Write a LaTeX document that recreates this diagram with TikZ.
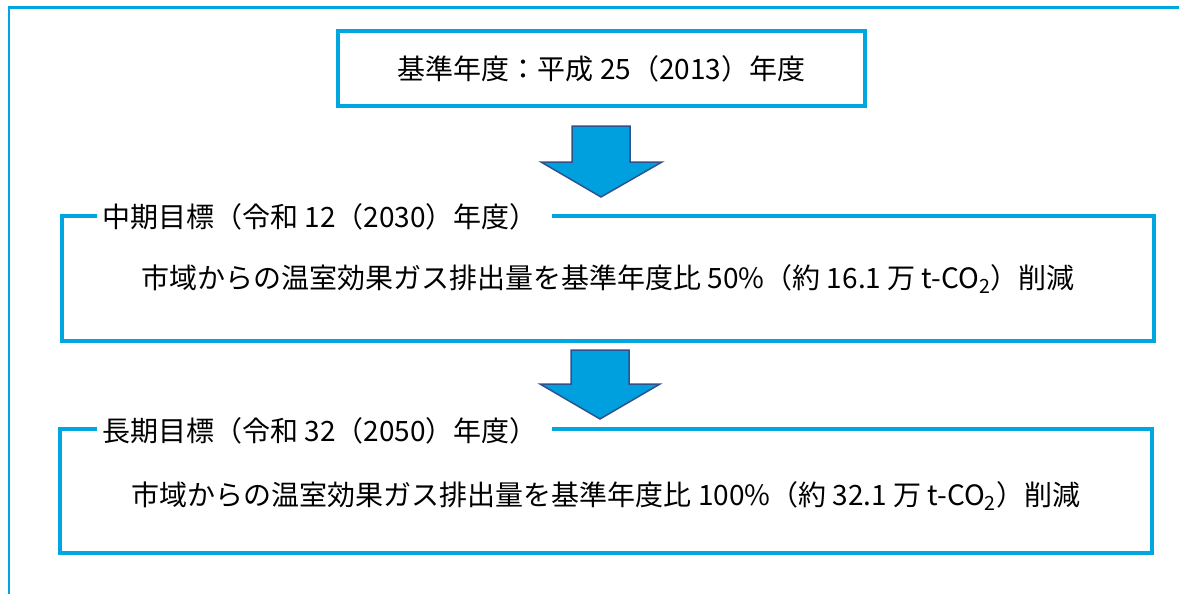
\documentclass[tikz,border=0pt]{standalone}
\usepackage{fontspec}
\setmainfont{Noto Sans CJK JP}
\definecolor{framec}{RGB}{0,166,224}
\definecolor{arrfill}{RGB}{0,160,222}
\definecolor{arredge}{RGB}{47,82,143}
\begin{document}
\begin{tikzpicture}[x=1pt,y=-1pt,
  outerline/.style={draw=framec,line width=2.2pt},
  goalbox/.style={draw=framec,line width=4pt,inner sep=0pt},
  blockarrow/.style={fill=arrfill,draw=arredge,line width=1.5pt,line join=miter},
  txt/.style={font=\fontsize{28}{32}\selectfont,text=black,inner sep=0pt},
  boxtitle/.style={txt,fill=white,inner xsep=5pt,inner ysep=2pt,anchor=west}]
\useasboundingbox (0,0) rectangle (1179,594);
% outer frame (top and left edges only visible)
\coordinate (fbl) at (9,594);
\coordinate (ftl) at (9,7.5);
\coordinate (ftr) at (1179,7.5);
\draw[outerline] (fbl) -- (ftl) -- (ftr);
% base year box
\node[goalbox,txt,minimum width=527pt,minimum height=75pt] (base) at (601.5,68.5)
  {基準年度：平成 25（2013）年度};
% mid-term box
\node[goalbox,minimum width=1092pt,minimum height=125pt] (mid) at (608,278.5) {};
\node[boxtitle] (midtitle) at ([xshift=37pt,yshift=-3pt]mid.north west)
  {中期目標（令和 12（2030）年度）\kern9pt\null};
\node[txt] (midtext) at (608,279)
  {市域からの温室効果ガス排出量を基準年度比 50\%（約 16.1 万 t-CO\textsubscript{2}）削減};
% long-term box
\node[goalbox,minimum width=1092pt,minimum height=124pt] (long) at (606,491) {};
\node[boxtitle] (longtitle) at ([xshift=39pt,yshift=-4pt]long.north west)
  {長期目標（令和 32（2050）年度）\kern9pt\null};
\node[txt] (longtext) at (606,496)
  {市域からの温室効果ガス排出量を基準年度比 100\%（約 32.1 万 t-CO\textsubscript{2}）削減};
% block arrows
\path[blockarrow] (572,126) -- (630,126) -- (630,162) -- (662,162) -- (601,197)
  -- (541,162) -- (572,162) -- cycle;
\path[blockarrow] (571,350) -- (629,350) -- (629,384) -- (660,384) -- (600,419)
  -- (540,384) -- (571,384) -- cycle;
\end{tikzpicture}
\end{document}
